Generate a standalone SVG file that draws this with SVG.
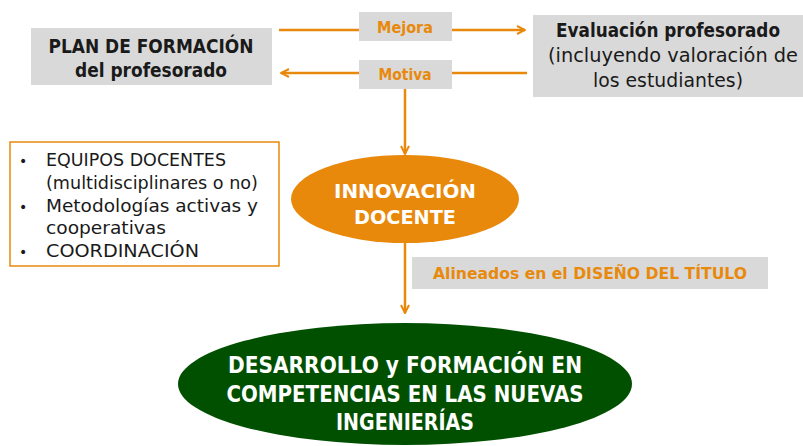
<svg xmlns="http://www.w3.org/2000/svg" width="803" height="446" viewBox="0 0 803 446">
<defs>
<marker id="ah" viewBox="0 0 10 10" refX="9" refY="5" markerWidth="10" markerHeight="10" markerUnits="userSpaceOnUse" orient="auto">
<path d="M1,1 L9,5 L1,9" fill="none" stroke="#E8890C" stroke-width="2"/>
</marker>
<style>
.gbox{fill:#D9D9D9}
.line{stroke:#E8890C;stroke-width:2.5;fill:none}
text{font-family:"DejaVu Sans","Liberation Sans",sans-serif}
.b{font-weight:bold}
.dk{fill:#1a1a1a}
.or{fill:#E8890C}
.wh{fill:#ffffff}
</style>
</defs>
<rect width="803" height="446" fill="#ffffff"/>
<g id="connectors">
<line class="line" x1="279" y1="30" x2="525" y2="30" marker-end="url(#ah)"/>
<line class="line" x1="527" y1="73" x2="281" y2="73" marker-end="url(#ah)"/>
<line class="line" x1="405" y1="89" x2="405" y2="154" marker-end="url(#ah)"/>
<line class="line" x1="405" y1="243" x2="405" y2="313" marker-end="url(#ah)"/>
</g>
<g id="plan">
<rect class="gbox" x="31" y="28" width="241" height="57"/>
<text class="b dk" x="151" y="53" font-size="19" text-anchor="middle" textLength="205" lengthAdjust="spacingAndGlyphs">PLAN DE FORMACIÓN</text>
<text class="b dk" x="151" y="77" font-size="19" text-anchor="middle" textLength="152" lengthAdjust="spacingAndGlyphs">del profesorado</text>
</g>
<g id="mejora">
<rect class="gbox" x="359" y="12" width="93" height="29"/>
<text class="b or" x="405" y="33" font-size="15" text-anchor="middle" textLength="56" lengthAdjust="spacingAndGlyphs">Mejora</text>
</g>
<g id="motiva">
<rect class="gbox" x="359" y="60" width="93" height="29"/>
<text class="b or" x="405" y="80" font-size="15" text-anchor="middle" textLength="53" lengthAdjust="spacingAndGlyphs">Motiva</text>
</g>
<g id="evaluacion">
<rect class="gbox" x="533" y="15" width="270" height="82"/>
<text class="b dk" x="668" y="37" font-size="19" text-anchor="middle" textLength="224" lengthAdjust="spacingAndGlyphs">Evaluación profesorado</text>
<text class="dk" x="673" y="62" font-size="19" text-anchor="middle" textLength="250" lengthAdjust="spacingAndGlyphs">(incluyendo valoración de</text>
<text class="dk" x="668" y="87" font-size="19" text-anchor="middle" textLength="150" lengthAdjust="spacingAndGlyphs">los estudiantes)</text>
</g>
<g id="lista">
<rect x="10" y="142" width="269" height="124" fill="#ffffff" stroke="#E8890C" stroke-width="1.5"/>
<g class="dk" font-size="17.5">
<text x="19" y="166" font-size="14">•</text>
<text x="46" y="166" textLength="180" lengthAdjust="spacingAndGlyphs">EQUIPOS DOCENTES</text>
<text x="46" y="189" textLength="212" lengthAdjust="spacingAndGlyphs">(multidisciplinares o no)</text>
<text x="19" y="212" font-size="14">•</text>
<text x="46" y="212" textLength="212" lengthAdjust="spacingAndGlyphs">Metodologías activas y</text>
<text x="46" y="234" textLength="120" lengthAdjust="spacingAndGlyphs">cooperativas</text>
<text x="19" y="257" font-size="14">•</text>
<text x="46" y="257" textLength="153" lengthAdjust="spacingAndGlyphs">COORDINACIÓN</text>
</g>
</g>
<g id="innovacion">
<ellipse cx="405" cy="199" rx="114" ry="44" fill="#E8890C"/>
<text class="b wh" x="405" y="198" font-size="20" text-anchor="middle" textLength="142" lengthAdjust="spacingAndGlyphs">INNOVACIÓN</text>
<text class="b wh" x="405" y="224" font-size="20" text-anchor="middle" textLength="102" lengthAdjust="spacingAndGlyphs">DOCENTE</text>
</g>
<g id="alineados">
<rect class="gbox" x="412" y="257" width="356" height="32"/>
<text class="b or" x="590" y="279" font-size="16.5" text-anchor="middle" textLength="314" lengthAdjust="spacingAndGlyphs">Alineados en el DISEÑO DEL TÍTULO</text>
</g>
<g id="desarrollo">
<ellipse cx="405" cy="384" rx="227" ry="61" fill="#005000"/>
<text class="b wh" x="405" y="373" font-size="23" text-anchor="middle" textLength="354" lengthAdjust="spacingAndGlyphs">DESARROLLO y FORMACIÓN EN</text>
<text class="b wh" x="405" y="402" font-size="23" text-anchor="middle" textLength="357" lengthAdjust="spacingAndGlyphs">COMPETENCIAS EN LAS NUEVAS</text>
<text class="b wh" x="405" y="430" font-size="23" text-anchor="middle" textLength="138" lengthAdjust="spacingAndGlyphs">INGENIERÍAS</text>
</g>
</svg>
